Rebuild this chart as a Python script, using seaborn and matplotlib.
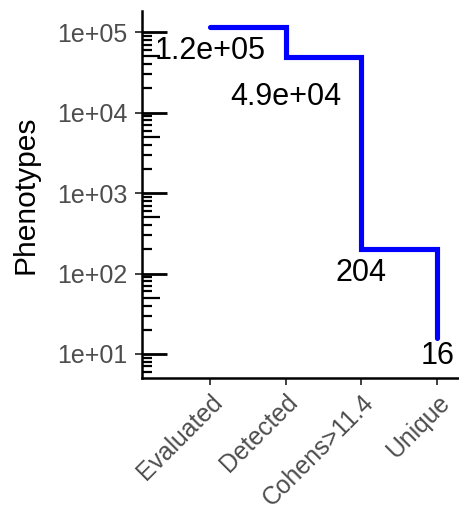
import numpy as np
import matplotlib
matplotlib.use("Agg")
import matplotlib.pyplot as plt
import seaborn as sns

# data
stages = ["Evaluated", "Detected", "Cohens>11.4", "Unique"]
phenotypes = [117000, 49000, 204, 16]
labels = ["1.2e+05", "4.9e+04", "204", "16"]

# label drop below each point (points)
label_drop = [17.5, 28.4, 17.5, 13.2]

sns.set_style("white")
plt.rcParams["font.family"] = ["Liberation Sans", "DejaVu Sans"]

W, H, DPI = 459, 508, 100
fig = plt.figure(figsize=(W / DPI, H / DPI), dpi=DPI)
left, right, bottom, top = 141.7 / W, 458.5 / W, 1 - 377.7 / H, 1 - 11 / H
ax = fig.add_axes([left, bottom, right - left, top - bottom])

x = np.arange(len(stages))
sns.lineplot(x=x, y=phenotypes, ax=ax, color="#0000FF", linewidth=3.7,
             drawstyle="steps-post", solid_joinstyle="miter")

for xi, yi, lab, d in zip(x, phenotypes, labels, label_drop):
    ax.annotate(lab, (xi, yi), xytext=(0, -d), textcoords="offset points",
                ha="center", va="center", fontsize=22, color="black")

ax.set_yscale("log")
ax.set_ylim(5.06, 1.84e5)
ax.set_xlim(-0.9, 3.28)

ax.set_xticks(x)
ax.set_xticklabels(stages, rotation=45, ha="right", va="top",
                   rotation_mode="anchor", fontsize=17.8, color="#4D4D4D")
ax.set_yticks([1e1, 1e2, 1e3, 1e4, 1e5])
ax.set_yticklabels(["1e+01", "1e+02", "1e+03", "1e+04", "1e+05"],
                   fontsize=18, color="#4D4D4D")
ax.yaxis.set_minor_locator(matplotlib.ticker.NullLocator())
ax.tick_params(axis="both", which="major", direction="out", length=5,
               width=1.3, color="#333333", pad=4, left=True, bottom=True)
ax.tick_params(axis="y", pad=5)

# log ticks inside the panel
ax_w = (right - left) * W
ytr = ax.get_yaxis_transform()
for k in range(0, 6):
    for m in range(1, 10):
        v = m * 10 ** k
        if v < 5.06 or v > 1.84e5:
            continue
        if m == 1:
            ln, lw = 25, 2.0
        elif m == 5:
            ln, lw = 18, 1.6
        else:
            ln, lw = 10, 1.6
        ax.plot([0, ln / ax_w], [v, v], transform=ytr, color="black",
                linewidth=lw, solid_capstyle="butt", clip_on=False)

for s in ["top", "right"]:
    ax.spines[s].set_visible(False)
for s in ["left", "bottom"]:
    ax.spines[s].set_color("black")
    ax.spines[s].set_linewidth(1.8)

ax.set_xlabel("")
ax.set_ylabel("Phenotypes", fontsize=21.6, color="black")
ax.yaxis.set_label_coords(-0.322, 0.5)

fig.savefig("out.png", dpi=DPI)
